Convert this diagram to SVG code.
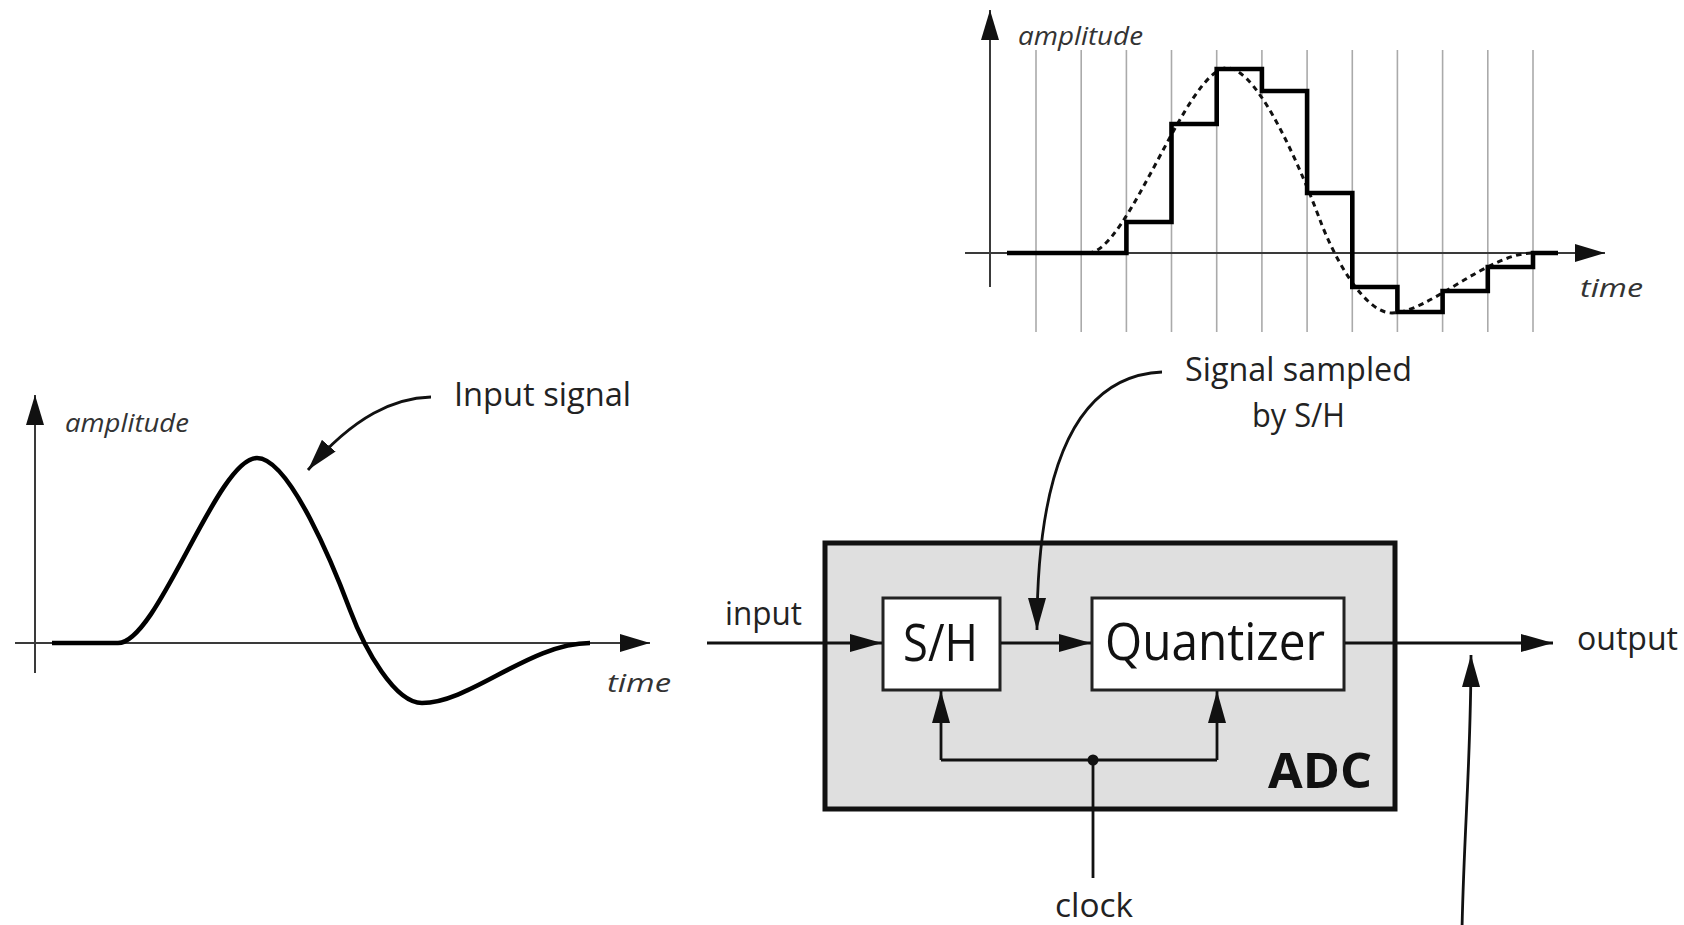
<svg xmlns="http://www.w3.org/2000/svg" width="1684" height="925" viewBox="0 0 1684 925">
<defs>
<style>
.lbl{font-family:"Open Sans","Liberation Sans",sans-serif;font-size:33px;fill:#222}
.it{font-family:"Open Sans","Liberation Sans",sans-serif;font-style:italic;font-size:26px;fill:#333}
.big{font-family:"Open Sans","Liberation Sans",sans-serif;font-size:51px;fill:#111}
.bold{font-family:"Open Sans","Liberation Sans",sans-serif;font-weight:bold;font-size:49px;fill:#111}
.axis{stroke:#3a3a3a;stroke-width:2;fill:none}
.grid{stroke:#aaa;stroke-width:1.6}
.wire{stroke:#111;stroke-width:2.8;fill:none}
.box{fill:#fff;stroke:#222;stroke-width:3}
</style>
<marker id="ah" markerUnits="userSpaceOnUse" viewBox="0 0 32 18" markerWidth="32" markerHeight="18" refX="32" refY="9" orient="auto">
<path d="M0,0 L32,9 L0,18 Z" fill="#111"/>
</marker>
<marker id="ahs" markerUnits="userSpaceOnUse" viewBox="0 0 30 18" markerWidth="30" markerHeight="18" refX="30" refY="9" orient="auto">
<path d="M0,0 L30,9 L0,18 Z" fill="#111"/>
</marker>
</defs>
<rect width="1684" height="925" fill="#fff"/>

<g id="plot-sampled">
<g class="grid">
<line x1="1036" y1="50" x2="1036" y2="332"/>
<line x1="1081.2" y1="50" x2="1081.2" y2="332"/>
<line x1="1126.4" y1="50" x2="1126.4" y2="332"/>
<line x1="1171.5" y1="50" x2="1171.5" y2="332"/>
<line x1="1216.7" y1="50" x2="1216.7" y2="332"/>
<line x1="1261.9" y1="50" x2="1261.9" y2="332"/>
<line x1="1307.1" y1="50" x2="1307.1" y2="332"/>
<line x1="1352.3" y1="50" x2="1352.3" y2="332"/>
<line x1="1397.4" y1="50" x2="1397.4" y2="332"/>
<line x1="1442.6" y1="50" x2="1442.6" y2="332"/>
<line x1="1487.8" y1="50" x2="1487.8" y2="332"/>
<line x1="1533" y1="50" x2="1533" y2="332"/>
</g>
<line class="axis" x1="990" y1="287" x2="990" y2="10" marker-end="url(#ahs)"/>
<line class="axis" x1="965" y1="253" x2="1605" y2="253" marker-end="url(#ahs)"/>
<path d="M1088,253 C1128,253 1187,68 1227,68 C1260,68 1305,180 1320,220 C1335,260 1365,313 1392,313 C1428,313 1488,253 1533,253" fill="none" stroke="#111" stroke-width="3" stroke-dasharray="5.5 4.5"/>
<path d="M1007,253 H1126.4 V222 H1171.5 V124 H1216.7 V69 H1261.9 V91 H1307.1 V193 H1352.3 V287 H1397.4 V312 H1442.6 V291 H1487.8 V267 H1533 V253 H1558" fill="none" stroke="#000" stroke-width="4.6"/>
<text class="it" x="1018" y="45" textLength="125" lengthAdjust="spacingAndGlyphs">amplitude</text>
<text class="it" x="1580" y="297" textLength="63" lengthAdjust="spacingAndGlyphs">time</text>
</g>

<g id="plot-input">
<line class="axis" x1="35" y1="673" x2="35" y2="395" marker-end="url(#ahs)"/>
<line class="axis" x1="15" y1="643" x2="650" y2="643" marker-end="url(#ahs)"/>
<path d="M52,643 L118,643 C158,643 217,458 257,458 C290,458 335,570 350,610 C365,650 395,703 422,703 C470,703 530,643 590,643" fill="none" stroke="#000" stroke-width="4.6" stroke-linecap="butt"/>
<text class="it" x="65" y="432" textLength="124" lengthAdjust="spacingAndGlyphs">amplitude</text>
<text class="it" x="607" y="692" textLength="64" lengthAdjust="spacingAndGlyphs">time</text>
</g>

<g id="label-input-signal">
<text class="lbl" x="454" y="406" textLength="177" lengthAdjust="spacingAndGlyphs">Input signal</text>
</g>

<g id="label-signal-sampled">
<text class="lbl" x="1298.5" y="381" text-anchor="middle" textLength="227" lengthAdjust="spacingAndGlyphs">Signal sampled</text>
<text class="lbl" x="1298.5" y="427" text-anchor="middle" textLength="93" lengthAdjust="spacingAndGlyphs">by S/H</text>
</g>

<g id="adc">
<rect x="825" y="543" width="570" height="266" fill="#dfdfdf" stroke="#111" stroke-width="5"/>
<text class="bold" x="1268" y="788" textLength="104" lengthAdjust="spacingAndGlyphs">ADC</text>
</g>

<g id="sh">
<rect class="box" x="883" y="598" width="117" height="92"/>
<text class="big" x="903" y="661" textLength="75" lengthAdjust="spacingAndGlyphs">S/H</text>
</g>

<g id="quantizer">
<rect class="box" x="1092" y="598" width="252" height="92"/>
<text class="big" x="1105" y="660" textLength="220" lengthAdjust="spacingAndGlyphs">Quantizer</text>
</g>

<g id="label-input"><text class="lbl" x="725" y="625" textLength="77" lengthAdjust="spacingAndGlyphs">input</text></g>
<g id="label-output"><text class="lbl" x="1577" y="650" textLength="101" lengthAdjust="spacingAndGlyphs">output</text></g>
<g id="label-clock"><text class="lbl" x="1055" y="917" textLength="78" lengthAdjust="spacingAndGlyphs">clock</text></g>

<g id="connectors">
<line class="wire" x1="707" y1="643" x2="882" y2="643" marker-end="url(#ah)"/>
<line class="wire" x1="1001" y1="643" x2="1091" y2="643" marker-end="url(#ah)"/>
<line class="wire" x1="1345" y1="643" x2="1553" y2="643" marker-end="url(#ah)"/>
<path class="wire" d="M1093,878 V760 M941,760 H1217"/>
<line class="wire" x1="941" y1="760" x2="941" y2="691" marker-end="url(#ah)"/>
<line class="wire" x1="1217" y1="760" x2="1217" y2="691" marker-end="url(#ah)"/>
<circle cx="1093" cy="760" r="5.5" fill="#111"/>
<path class="wire" d="M1162,372 C1075,376 1037,470 1037,630" marker-end="url(#ah)"/>
<path class="wire" d="M431,397 C395,398 355,415 308,470" marker-end="url(#ah)"/>
<path class="wire" d="M1462,930 C1464,830 1471,760 1471,655" marker-end="url(#ah)"/>
</g>
</svg>
